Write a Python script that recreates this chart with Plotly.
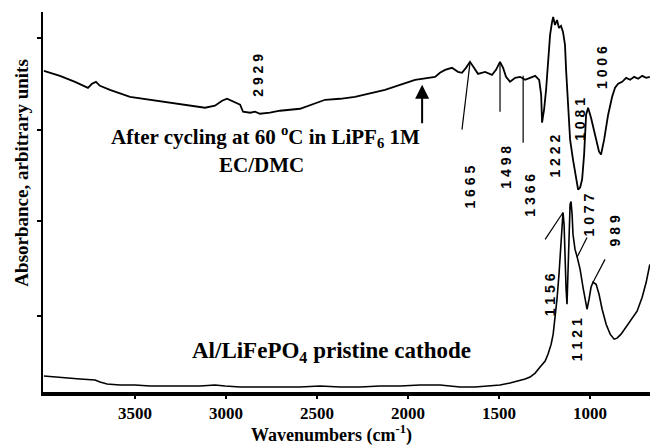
import plotly.graph_objects as go

# ---- data ----
cycled_wn = [4000, 3912, 3829, 3758, 3736, 3714, 3692, 3637, 3527, 3417, 3252, 3115, 3060, 3021, 2994,
             2961, 2922, 2906, 2867, 2840, 2813, 2758, 2703, 2593, 2455, 2373, 2291, 2126, 1961, 1851,
             1824, 1796, 1758, 1725, 1703, 1681, 1659, 1637, 1615, 1576, 1538, 1516, 1494, 1477, 1461,
             1439, 1411, 1384, 1356, 1329, 1301, 1279, 1268, 1263, 1252, 1241, 1230, 1219, 1208, 1202,
             1192, 1181, 1170, 1159, 1148, 1137, 1131, 1120, 1109, 1093, 1076, 1065, 1054, 1043, 1032,
             1021, 1010, 994, 972, 950, 939, 922, 900, 878, 862, 845, 823, 801, 779, 757, 735, 713, 691, 671]
cycled_abs = [3.22, 3.17, 3.11, 3.05, 3.09, 3.11, 3.07, 3.03, 2.96, 2.93, 2.88, 2.85, 2.87, 2.92, 2.94,
              2.91, 2.88, 2.81, 2.80, 2.81, 2.79, 2.80, 2.82, 2.84, 2.93, 2.94, 2.96, 3.03, 3.13, 3.16,
              3.20, 3.23, 3.25, 3.21, 3.20, 3.25, 3.31, 3.25, 3.19, 3.21, 3.18, 3.23, 3.31, 3.25, 3.16,
              3.11, 3.15, 3.16, 3.13, 3.15, 3.17, 3.13, 2.98, 2.70, 2.83, 3.03, 3.33, 3.58, 3.71, 3.76,
              3.68, 3.73, 3.65, 3.67, 3.61, 3.48, 3.23, 2.83, 2.53, 2.33, 2.13, 2.03, 2.05, 2.13, 2.38,
              2.78, 2.85, 2.75, 2.58, 2.41, 2.38, 2.53, 2.78, 2.96, 3.05, 3.09, 3.11, 3.15, 3.13, 3.16,
              3.14, 3.17, 3.15, 3.16]

pristine_wn = [4000, 3912, 3829, 3802, 3719, 3692, 3653, 3582, 3499, 3417, 3142, 3060, 3005, 2922, 2813,
               2593, 2483, 2373, 2263, 2153, 2043, 1933, 1824, 1714, 1631, 1549, 1494, 1439, 1395, 1356,
               1329, 1301, 1274, 1246, 1230, 1213, 1202, 1192, 1181, 1170, 1159, 1153, 1148, 1142, 1137,
               1131, 1126, 1120, 1115, 1109, 1104, 1098, 1093, 1082, 1071, 1054, 1038, 1021, 1016, 1005,
               994, 983, 966, 950, 933, 911, 889, 867, 851, 829, 801, 768, 741, 713, 691, 671]
pristine_abs = [0.16, 0.15, 0.14, 0.13, 0.12, 0.10, 0.08, 0.07, 0.07, 0.06, 0.06, 0.07, 0.06, 0.05, 0.05,
                0.05, 0.06, 0.05, 0.05, 0.06, 0.06, 0.07, 0.07, 0.05, 0.05, 0.06, 0.07, 0.09, 0.11, 0.13,
                0.15, 0.19, 0.25, 0.31, 0.38, 0.48, 0.58, 0.73, 0.93, 1.18, 1.48, 1.68, 1.80, 1.68, 1.33,
                1.03, 0.88, 1.23, 1.63, 1.88, 1.91, 1.78, 1.58, 1.43, 1.36, 1.23, 1.05, 0.88, 0.83, 0.93,
                1.05, 1.10, 1.08, 0.98, 0.83, 0.68, 0.58, 0.53, 0.54, 0.58, 0.65, 0.73, 0.81, 0.95, 1.10, 1.28]

x_ticks = [3500, 3000, 2500, 2000, 1500, 1000]
y_ticks = [0.76, 1.71, 2.63, 3.55]

# peak labels: text, x, y (label centre)
peak_labels = ["2929", "1665", "1498", "1366", "1222", "1081", "1006", "1077", "989", "1156", "1121"]
peak_label_x = [2824, 1664, 1466, 1334, 1192, 1054, 933, 1005, 862, 1219, 1071]
peak_label_y = [3.18, 2.05, 2.25, 1.97, 2.37, 2.73, 3.25, 1.77, 1.61, 0.97, 0.52]

# leader lines: start (x0,y0) -> end (x1,y1)
leader_x0 = [1659, 1494, 1367, 1246, 1071, 983]
leader_y0 = [3.30, 3.30, 3.17, 1.53, 1.35, 1.10]
leader_x1 = [1703, 1494, 1367, 1148, 1016, 917]
leader_y1 = [2.63, 2.81, 2.50, 1.80, 1.55, 1.33]

serif = "Liberation Serif"
sans = "Liberation Sans"

fig = go.Figure()
fig.add_trace(go.Scatter(x=cycled_wn, y=cycled_abs, mode="lines",
                         line=dict(color="black", width=1.8), showlegend=False))
fig.add_trace(go.Scatter(x=pristine_wn, y=pristine_abs, mode="lines",
                         line=dict(color="black", width=1.6), showlegend=False))

for x0, y0, x1, y1 in zip(leader_x0, leader_y0, leader_x1, leader_y1):
    fig.add_shape(type="line", x0=x0, y0=y0, x1=x1, y1=y1, xref="x", yref="y",
                  line=dict(color="black", width=1.2))

sp = " "
for t, x, y in zip(peak_labels, peak_label_x, peak_label_y):
    fig.add_annotation(x=x, y=y, text=sp.join(t), showarrow=False, textangle=-90,
                       xanchor="center", yanchor="middle",
                       font=dict(family=sans, size=14, color="black", weight="bold"))

fig.add_annotation(x=2785, y=2.56, text="After cycling at 60 <sup>o</sup>C in LiPF<sub>6</sub> 1M",
                   showarrow=False, xanchor="center", yanchor="middle",
                   font=dict(family=serif, size=21, color="black", weight="bold"))
fig.add_annotation(x=2807, y=2.28, text="EC/DMC", showarrow=False, xanchor="center", yanchor="middle",
                   font=dict(family=serif, size=21, color="black", weight="bold"))
fig.add_annotation(x=2422, y=0.40, text="Al/LiFePO<sub>4</sub> pristine cathode",
                   showarrow=False, xanchor="center", yanchor="middle",
                   font=dict(family=serif, size=23, color="black", weight="bold"))

fig.add_annotation(x=1922, y=3.08, ax=1922, ay=2.68, axref="x", ayref="y", xref="x", yref="y",
                   text="", showarrow=True, arrowhead=2, arrowsize=1.4, arrowwidth=2, arrowcolor="black")

fig.add_annotation(x=0.476, y=-0.111, xref="paper", yref="paper", text="Wavenumbers (cm<sup>-1</sup>)",
                   showarrow=False, xanchor="center", yanchor="middle",
                   font=dict(family=serif, size=18, color="black", weight="bold"))
fig.add_annotation(x=-0.036, y=0.575, xref="paper", yref="paper", text="Absorbance, arbitrary units",
                   textangle=-90, showarrow=False, xanchor="center", yanchor="middle",
                   font=dict(family=serif, size=19, color="black", weight="bold"))

fig.update_xaxes(range=[4005, 670], tickvals=x_ticks, ticks="outside", ticklen=3, tickwidth=2,
                 tickcolor="black", showline=True, linewidth=4, linecolor="black", showgrid=False,
                 zeroline=False, tickfont=dict(family=serif, size=17, color="black", weight="bold"))
fig.update_yaxes(range=[0, 3.81], tickvals=y_ticks, showticklabels=False, ticks="outside", ticklen=4,
                 tickwidth=1.5, tickcolor="black", showline=True, linewidth=2, linecolor="black",
                 showgrid=False, zeroline=False)

fig.update_layout(width=650, height=445, margin=dict(l=43, r=0, t=12, b=53, pad=0),
                  paper_bgcolor="white", plot_bgcolor="white")

fig.write_html("out.html")
